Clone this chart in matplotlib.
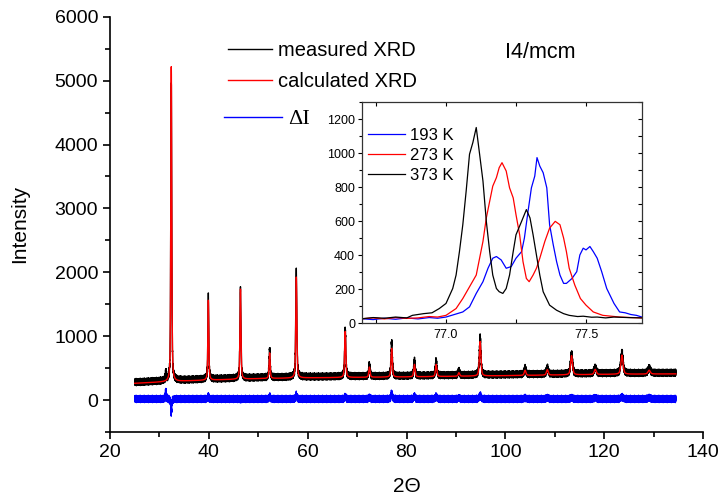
import numpy as np
import matplotlib
matplotlib.use("Agg")
import matplotlib.pyplot as plt
from matplotlib.ticker import MultipleLocator

plt.rcParams['font.family'] = ['Liberation Sans', 'DejaVu Sans']

# ---------------- main pattern data ----------------
two_theta_range = [25.0, 134.5]
step = 0.02
peak_pos = [32.4, 39.9, 46.4, 52.3, 57.7, 67.6, 72.5, 77.0, 81.6, 86.0, 90.6, 94.9,
            104.0, 108.5, 113.4, 118.2, 123.6, 129.1]
calc_height = [4930, 1250, 1410, 400, 1580, 720, 160, 450, 195, 190, 55, 540,
               80, 85, 300, 80, 300, 60]
meas_height = [4700, 1300, 1400, 440, 1650, 760, 185, 540, 240, 230, 70, 600,
               95, 105, 320, 100, 330, 80]
peak_fwhm = [0.22, 0.22, 0.24, 0.25, 0.26, 0.28, 0.3, 0.3, 0.32, 0.33, 0.35, 0.36,
             0.4, 0.42, 0.45, 0.48, 0.5, 0.55]
impurity_pos = [31.3]
impurity_height = [140]
bg_x = [25, 30, 35, 40, 50, 60, 80, 100, 120, 134.5]
bg_y = [262, 280, 298, 312, 335, 348, 362, 382, 402, 410]
meas_offset = 18
noise_pattern = [0.3, -0.7, 0.9, -0.2, 0.5, -0.9, 0.1, 0.8, -0.4, -0.6, 0.7, -0.1, 0.4,
                 -0.8, 1.0, -0.3, 0.2, -1.0, 0.6, -0.5, 0.0, 0.9, -0.7, 0.3, -0.2, 0.8,
                 -0.9, 0.5, -0.4, 0.1, 0.7, -0.6, 0.2, -0.8, 0.6, -0.1, 0.9, -0.5, 0.4,
                 -0.3, -0.9]
noise_amp = 58

# ---------------- inset data ----------------
x193 = [76.70, 76.74, 76.78, 76.82, 76.86, 76.90, 76.94, 76.97, 77.00, 77.03, 77.06,
        77.084, 77.108, 77.132, 77.15, 77.167, 77.18, 77.197, 77.215, 77.233, 77.25,
        77.27, 77.28, 77.293, 77.305, 77.317, 77.325, 77.335, 77.347, 77.36, 77.37,
        77.383, 77.395, 77.407, 77.42, 77.43, 77.45, 77.467, 77.478, 77.49, 77.50,
        77.514, 77.526, 77.54, 77.556, 77.574, 77.60, 77.62, 77.64, 77.66, 77.68, 77.70]
y193 = [25, 20, 28, 22, 30, 24, 32, 28, 35, 50, 65, 95, 174, 243, 322, 381, 391, 371,
        322, 332, 381, 420, 500, 657, 795, 864, 973, 923, 884, 795, 578, 460, 361, 282,
        233, 233, 262, 302, 400, 440, 430, 450, 420, 381, 302, 203, 115, 65, 60, 50,
        45, 35]
x273 = [76.70, 76.74, 76.78, 76.82, 76.86, 76.90, 76.94, 76.97, 77.00, 77.036, 77.06,
        77.084, 77.108, 77.12, 77.132, 77.144, 77.156, 77.167, 77.18, 77.19, 77.20,
        77.215, 77.227, 77.24, 77.25, 77.263, 77.275, 77.287, 77.297, 77.311, 77.323,
        77.335, 77.353, 77.37, 77.39, 77.407, 77.42, 77.43, 77.44, 77.46, 77.48, 77.50,
        77.526, 77.56, 77.59, 77.62, 77.66, 77.70]
y273 = [25, 30, 24, 32, 27, 30, 38, 35, 45, 85, 144, 213, 282, 381, 480, 618, 716, 805,
        855, 914, 943, 894, 795, 736, 637, 519, 361, 262, 243, 282, 322, 381, 480, 558,
        598, 578, 500, 420, 322, 223, 144, 105, 65, 45, 40, 35, 32, 30]
x373 = [76.70, 76.74, 76.78, 76.82, 76.86, 76.88, 76.92, 76.95, 76.976, 77.00, 77.024,
        77.036, 77.048, 77.06, 77.072, 77.084, 77.096, 77.108, 77.12, 77.132, 77.144,
        77.156, 77.167, 77.18, 77.19, 77.203, 77.215, 77.227, 77.24, 77.25, 77.27,
        77.287, 77.30, 77.311, 77.323, 77.335, 77.347, 77.37, 77.395, 77.42, 77.44,
        77.47, 77.49, 77.52, 77.54, 77.57, 77.60, 77.65, 77.70]
y373 = [25, 32, 28, 35, 30, 45, 55, 60, 85, 115, 203, 282, 420, 578, 776, 993, 1062,
        1150, 993, 835, 598, 420, 282, 203, 184, 174, 203, 282, 420, 519, 598, 667, 618,
        519, 400, 282, 184, 105, 75, 55, 45, 38, 40, 34, 35, 30, 35, 32, 30]

# ---------------- build curves ----------------
x = np.arange(two_theta_range[0], two_theta_range[1] + step / 2, step)
bg = np.interp(x, bg_x, bg_y)


def profile(pos, hts, wids):
    out = np.zeros_like(x)
    for p, h, w in zip(pos, hts, wids):
        g = 0.5 * w
        out += h * (0.5 * g**2 / ((x - p)**2 + g**2) +
                    0.5 * np.exp(-4 * np.log(2) * ((x - p) / w)**2))
    return out


calc = bg + profile(peak_pos, calc_height, peak_fwhm)
noise = np.resize(np.array(noise_pattern), x.size) * noise_amp
meas = bg + meas_offset + profile(peak_pos, meas_height, peak_fwhm) \
    + profile(impurity_pos, impurity_height, [0.2]) + noise
diff = meas - calc

# ---------------- figure ----------------
W, H = 719, 499
fig = plt.figure(figsize=(W / 100, H / 100), dpi=100)
ax = fig.add_axes([110 / W, 1 - 432 / H, (703 - 110) / W, (432 - 16.8) / H])

l_meas, = ax.plot(x, meas, color='black', lw=1.0, label='measured XRD')
l_calc, = ax.plot(x, calc, color='red', lw=1.0, label='calculated XRD')
l_diff, = ax.plot(x, diff, color='blue', lw=1.0, label=r'$\Delta$I')

ax.set_xlim(20, 140)
ax.set_ylim(-500, 6000)
ax.xaxis.set_major_locator(MultipleLocator(20))
ax.xaxis.set_minor_locator(MultipleLocator(10))
ax.yaxis.set_major_locator(MultipleLocator(1000))
ax.yaxis.set_minor_locator(MultipleLocator(500))
for s in ['top', 'right']:
    ax.spines[s].set_visible(False)
for s in ['left', 'bottom']:
    ax.spines[s].set_linewidth(1.2)
ax.tick_params(which='major', direction='out', length=5, width=1.2, labelsize=14,
               colors='black')
ax.tick_params(which='minor', direction='out', length=3.5, width=1.2)
ax.set_xlabel('2\u0398', fontsize=15, labelpad=12)
ax.set_ylabel('Intensity', fontsize=15, labelpad=18)

ax.text(100, 5440, 'I4/mcm', fontsize=15.5, va='center', ha='left')

leg1 = ax.legend(handles=[l_meas, l_calc], loc='upper left',
                 bbox_to_anchor=(228 / W, 1 - 41 / H), bbox_transform=fig.transFigure,
                 frameon=False, fontsize=14.5, handlelength=2.2, handletextpad=0.3,
                 labelspacing=0.6, borderpad=0, borderaxespad=0)
ax.add_artist(leg1)
leg2 = ax.legend(handles=[l_diff], loc='center left',
                 bbox_to_anchor=(224 / W, 1 - 119 / H), bbox_transform=fig.transFigure,
                 frameon=False, handlelength=2.6, handletextpad=0.3, borderpad=0,
                 borderaxespad=0, prop={'family': ['Liberation Serif', 'DejaVu Serif'],
                                        'size': 16})
for t in leg2.get_texts():
    t.set_text('\u0394I')

# ---------------- inset ----------------
axi = fig.add_axes([362 / W, 1 - 323 / H, 280 / W, 221 / H])
li1, = axi.plot(x193, y193, color='blue', lw=0.9, label='193 K')
li2, = axi.plot(x273, y273, color='red', lw=0.9, label='273 K')
li3, = axi.plot(x373, y373, color='black', lw=0.9, label='373 K')
axi.set_xlim(76.70, 77.70)
axi.set_ylim(0, 1300)
axi.xaxis.set_major_locator(MultipleLocator(0.5))
axi.xaxis.set_minor_locator(MultipleLocator(0.25))
axi.yaxis.set_major_locator(MultipleLocator(200))
axi.yaxis.set_minor_locator(MultipleLocator(100))
axi.xaxis.set_major_formatter(matplotlib.ticker.FormatStrFormatter('%.1f'))
for s in axi.spines.values():
    s.set_linewidth(0.9)
    s.set_color('#333333')
axi.tick_params(axis='x', which='both', direction='in', top=True, labelsize=9,
                length=3, width=0.8, pad=4)
axi.tick_params(axis='y', which='both', direction='out', labelsize=9,
                length=3, width=0.8, pad=2)
axi.tick_params(axis='y', which='minor', length=2)
axr = axi.secondary_yaxis('right')
axr.yaxis.set_major_locator(MultipleLocator(200))
axr.yaxis.set_minor_locator(MultipleLocator(100))
axr.tick_params(which='both', direction='in', length=3, width=0.8, labelright=False)
axr.spines['right'].set_visible(False)
axi.legend(loc='upper left', bbox_to_anchor=(368 / W, 1 - 128 / H),
           bbox_transform=fig.transFigure, frameon=False, fontsize=12,
           handlelength=2.2, handletextpad=0.3, labelspacing=0.3,
           borderpad=0, borderaxespad=0)

fig.savefig('out.png', dpi=100)
